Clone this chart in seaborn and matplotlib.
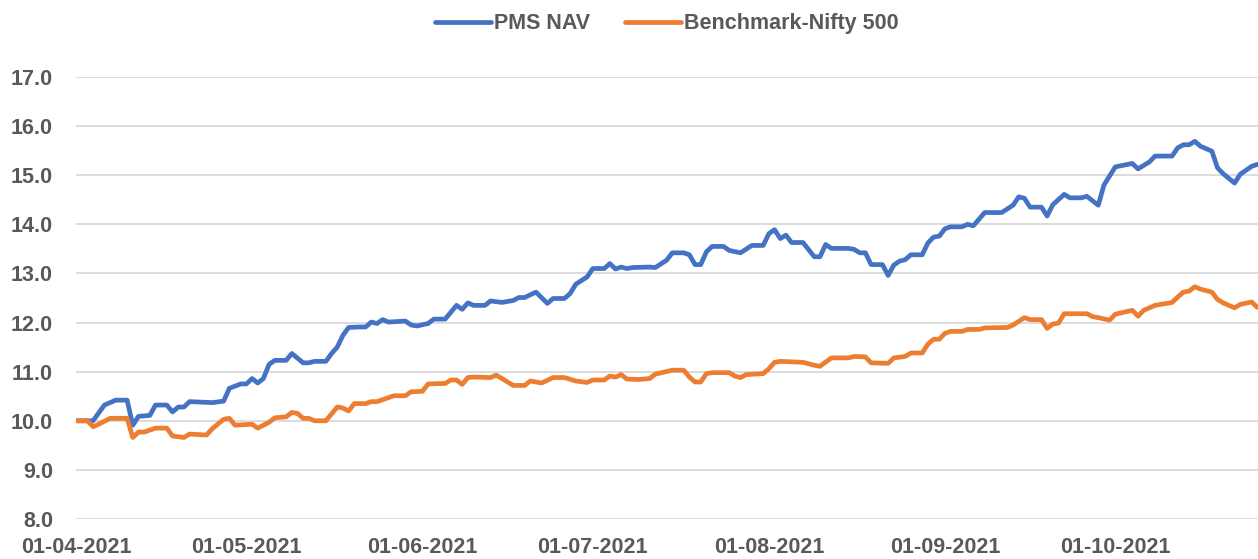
import pandas as pd
import seaborn as sns
import matplotlib.pyplot as plt
import matplotlib.dates as mdates

# values
pms_dates = ['2021-04-01', '2021-04-04', '2021-04-06', '2021-04-08', '2021-04-10', '2021-04-11',
             '2021-04-12', '2021-04-14', '2021-04-15', '2021-04-17', '2021-04-18', '2021-04-19',
             '2021-04-20', '2021-04-21', '2021-04-25', '2021-04-27', '2021-04-28', '2021-04-30',
             '2021-05-01', '2021-05-02', '2021-05-03', '2021-05-04', '2021-05-05', '2021-05-06',
             '2021-05-08', '2021-05-09', '2021-05-11', '2021-05-12', '2021-05-13', '2021-05-15',
             '2021-05-16', '2021-05-17', '2021-05-18', '2021-05-19', '2021-05-21', '2021-05-22',
             '2021-05-23', '2021-05-24', '2021-05-25', '2021-05-26', '2021-05-29', '2021-05-30',
             '2021-05-31', '2021-06-02', '2021-06-03', '2021-06-05', '2021-06-07', '2021-06-08',
             '2021-06-09', '2021-06-10', '2021-06-12', '2021-06-13', '2021-06-15', '2021-06-17',
             '2021-06-18', '2021-06-19', '2021-06-21', '2021-06-23', '2021-06-24', '2021-06-26',
             '2021-06-27', '2021-06-28', '2021-06-30', '2021-07-01', '2021-07-03', '2021-07-04',
             '2021-07-05', '2021-07-06', '2021-07-07', '2021-07-08', '2021-07-11', '2021-07-12',
             '2021-07-14', '2021-07-15', '2021-07-17', '2021-07-18', '2021-07-19', '2021-07-20',
             '2021-07-21', '2021-07-22', '2021-07-24', '2021-07-25', '2021-07-27', '2021-07-29',
             '2021-07-31', '2021-08-01', '2021-08-02', '2021-08-03', '2021-08-04', '2021-08-05',
             '2021-08-07', '2021-08-09', '2021-08-10', '2021-08-11', '2021-08-12', '2021-08-15',
             '2021-08-16', '2021-08-17', '2021-08-18', '2021-08-19', '2021-08-21', '2021-08-22',
             '2021-08-23', '2021-08-24', '2021-08-25', '2021-08-26', '2021-08-28', '2021-08-29',
             '2021-08-30', '2021-08-31', '2021-09-01', '2021-09-02', '2021-09-04', '2021-09-05',
             '2021-09-06', '2021-09-08', '2021-09-11', '2021-09-13', '2021-09-14', '2021-09-15',
             '2021-09-16', '2021-09-18', '2021-09-19', '2021-09-20', '2021-09-22', '2021-09-23',
             '2021-09-25', '2021-09-26', '2021-09-28', '2021-09-29', '2021-10-01', '2021-10-04',
             '2021-10-05', '2021-10-07', '2021-10-08', '2021-10-11', '2021-10-12', '2021-10-13',
             '2021-10-14', '2021-10-15', '2021-10-16', '2021-10-18', '2021-10-19', '2021-10-20',
             '2021-10-22', '2021-10-23', '2021-10-25', '2021-10-26']
pms_nav = [10.00, 10.00, 10.32, 10.42, 10.42, 9.91,
           10.09, 10.11, 10.32, 10.32, 10.18, 10.28,
           10.28, 10.39, 10.37, 10.40, 10.66, 10.75,
           10.75, 10.86, 10.77, 10.86, 11.15, 11.23,
           11.23, 11.37, 11.18, 11.18, 11.21, 11.21,
           11.37, 11.50, 11.74, 11.90, 11.91, 11.91,
           12.01, 11.98, 12.06, 12.01, 12.03, 11.95,
           11.93, 11.98, 12.07, 12.07, 12.35, 12.27,
           12.40, 12.35, 12.35, 12.44, 12.41, 12.45,
           12.51, 12.51, 12.62, 12.39, 12.49, 12.49,
           12.59, 12.78, 12.93, 13.10, 13.10, 13.20,
           13.09, 13.13, 13.10, 13.12, 13.13, 13.12,
           13.27, 13.42, 13.42, 13.38, 13.18, 13.18,
           13.44, 13.55, 13.55, 13.47, 13.42, 13.57,
           13.57, 13.81, 13.89, 13.71, 13.78, 13.63,
           13.63, 13.34, 13.34, 13.59, 13.51, 13.51,
           13.49, 13.42, 13.42, 13.18, 13.18, 12.96,
           13.17, 13.25, 13.28, 13.38, 13.38, 13.62,
           13.74, 13.76, 13.91, 13.95, 13.95, 14.00,
           13.97, 14.24, 14.24, 14.39, 14.56, 14.53,
           14.35, 14.35, 14.17, 14.40, 14.61, 14.54,
           14.54, 14.57, 14.39, 14.80, 15.17, 15.24,
           15.13, 15.27, 15.39, 15.39, 15.56, 15.62,
           15.62, 15.69, 15.59, 15.49, 15.15, 15.03,
           14.84, 15.02, 15.18, 15.22]

nifty_dates = ['2021-04-01', '2021-04-03', '2021-04-04', '2021-04-05', '2021-04-07', '2021-04-10',
               '2021-04-11', '2021-04-12', '2021-04-13', '2021-04-15', '2021-04-17', '2021-04-18',
               '2021-04-20', '2021-04-21', '2021-04-24', '2021-04-25', '2021-04-27', '2021-04-28',
               '2021-04-29', '2021-05-02', '2021-05-03', '2021-05-05', '2021-05-06', '2021-05-08',
               '2021-05-09', '2021-05-10', '2021-05-11', '2021-05-12', '2021-05-13', '2021-05-15',
               '2021-05-17', '2021-05-18', '2021-05-19', '2021-05-20', '2021-05-22', '2021-05-23',
               '2021-05-24', '2021-05-27', '2021-05-29', '2021-05-30', '2021-06-01', '2021-06-02',
               '2021-06-05', '2021-06-06', '2021-06-07', '2021-06-08', '2021-06-09', '2021-06-10',
               '2021-06-13', '2021-06-14', '2021-06-16', '2021-06-17', '2021-06-19', '2021-06-20',
               '2021-06-22', '2021-06-24', '2021-06-26', '2021-06-28', '2021-06-30', '2021-07-01',
               '2021-07-03', '2021-07-04', '2021-07-05', '2021-07-06', '2021-07-07', '2021-07-09',
               '2021-07-11', '2021-07-12', '2021-07-15', '2021-07-17', '2021-07-18', '2021-07-19',
               '2021-07-20', '2021-07-21', '2021-07-22', '2021-07-25', '2021-07-26', '2021-07-27',
               '2021-07-28', '2021-07-31', '2021-08-01', '2021-08-02', '2021-08-03', '2021-08-05',
               '2021-08-07', '2021-08-09', '2021-08-10', '2021-08-12', '2021-08-15', '2021-08-16',
               '2021-08-18', '2021-08-19', '2021-08-22', '2021-08-23', '2021-08-25', '2021-08-26',
               '2021-08-28', '2021-08-29', '2021-08-30', '2021-08-31', '2021-09-01', '2021-09-02',
               '2021-09-04', '2021-09-05', '2021-09-07', '2021-09-08', '2021-09-12', '2021-09-13',
               '2021-09-15', '2021-09-16', '2021-09-18', '2021-09-19', '2021-09-20', '2021-09-21',
               '2021-09-22', '2021-09-26', '2021-09-27', '2021-09-28', '2021-09-30', '2021-10-01',
               '2021-10-04', '2021-10-05', '2021-10-06', '2021-10-08', '2021-10-11', '2021-10-12',
               '2021-10-13', '2021-10-14', '2021-10-15', '2021-10-16', '2021-10-18', '2021-10-19',
               '2021-10-20', '2021-10-22', '2021-10-23', '2021-10-25', '2021-10-26']
nifty_500 = [10.00, 10.00, 9.88, 9.93, 10.05, 10.05,
             9.66, 9.77, 9.77, 9.85, 9.85, 9.69,
             9.66, 9.73, 9.71, 9.84, 10.03, 10.05,
             9.91, 9.93, 9.85, 9.97, 10.06, 10.08,
             10.17, 10.15, 10.05, 10.05, 10.00, 10.00,
             10.28, 10.26, 10.20, 10.35, 10.35, 10.39,
             10.39, 10.51, 10.51, 10.59, 10.60, 10.75,
             10.76, 10.83, 10.83, 10.74, 10.88, 10.89,
             10.88, 10.93, 10.79, 10.72, 10.72, 10.81,
             10.77, 10.88, 10.88, 10.81, 10.78, 10.83,
             10.83, 10.91, 10.89, 10.94, 10.85, 10.84,
             10.86, 10.95, 11.03, 11.03, 10.89, 10.79,
             10.79, 10.96, 10.98, 10.98, 10.91, 10.88,
             10.94, 10.96, 11.06, 11.19, 11.21, 11.20,
             11.19, 11.13, 11.11, 11.28, 11.28, 11.31,
             11.30, 11.18, 11.17, 11.28, 11.31, 11.38,
             11.38, 11.56, 11.66, 11.66, 11.78, 11.82,
             11.82, 11.86, 11.86, 11.89, 11.90, 11.95,
             12.10, 12.06, 12.06, 11.88, 11.97, 11.99,
             12.18, 12.18, 12.12, 12.10, 12.05, 12.17,
             12.25, 12.13, 12.25, 12.35, 12.41, 12.52,
             12.62, 12.64, 12.73, 12.68, 12.62, 12.47,
             12.40, 12.30, 12.37, 12.42, 12.31]

series_names = ['PMS NAV', 'Benchmark-Nifty 500']
y_ticks = [8.0, 9.0, 10.0, 11.0, 12.0, 13.0, 14.0, 15.0, 16.0, 17.0]
x_ticks = ['2021-04-01', '2021-05-01', '2021-06-01', '2021-07-01',
           '2021-08-01', '2021-09-01', '2021-10-01']

df = pd.concat([
    pd.DataFrame({'date': pd.to_datetime(pms_dates), 'value': pms_nav, 'series': series_names[0]}),
    pd.DataFrame({'date': pd.to_datetime(nifty_dates), 'value': nifty_500, 'series': series_names[1]}),
])

sns.set_theme(style='white')
plt.rcParams['font.family'] = ['Liberation Sans', 'DejaVu Sans']
grey = '#595959'

fig = plt.figure(figsize=(12.58, 5.59), dpi=100)
ax = fig.add_axes([76 / 1258, 40 / 559, 1 - 76 / 1258, 442 / 559])

sns.lineplot(data=df, x='date', y='value', hue='series', hue_order=series_names,
             palette=['#4472C4', '#ED7D31'], linewidth=3.4, ax=ax)

ax.set_ylim(8, 17)
ax.set_yticks(y_ticks)
ax.set_yticklabels([f'{v:.1f}' for v in y_ticks])
ax.set_xlim(pd.Timestamp('2021-04-01'), pd.Timestamp('2021-10-26 03:00'))
ax.set_xticks(pd.to_datetime(x_ticks))
ax.xaxis.set_major_formatter(mdates.DateFormatter('%d-%m-%Y'))

ax.grid(axis='y', color='#D9D9D9', linewidth=1.3)
ax.grid(axis='x', visible=False)
for s in ax.spines.values():
    s.set_visible(False)
ax.tick_params(axis='y', length=0, pad=16.5, labelsize=15.5, labelcolor=grey)
ax.tick_params(axis='x', length=0, pad=13, labelsize=15.5, labelcolor=grey)
for lbl in ax.get_xticklabels() + ax.get_yticklabels():
    lbl.set_fontweight('bold')
ax.set_xlabel('')
ax.set_ylabel('')

leg = ax.legend(loc='center', bbox_to_anchor=(0.5, 1.12), ncol=2, frameon=False,
                fontsize=15.5, handlelength=2.6, handletextpad=0.15, columnspacing=1.6)
for t in leg.get_texts():
    t.set_color(grey)
    t.set_fontweight('bold')
for h in leg.get_lines():
    h.set_linewidth(3.4)

fig.savefig('out.png', dpi=100)
